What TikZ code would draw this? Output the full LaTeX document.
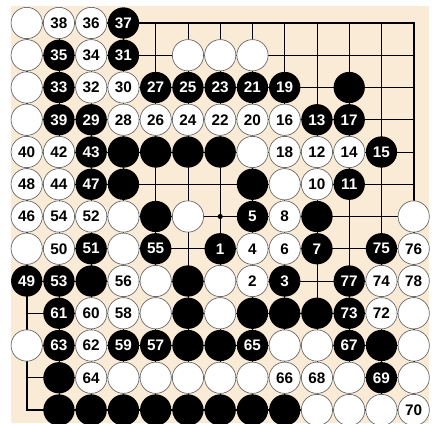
\documentclass[tikz,border=0pt]{standalone}
\usepackage{fontspec}
\setmainfont{Liberation Sans}
\definecolor{boardbg}{HTML}{FAEBD7}
\begin{document}
\begin{tikzpicture}[
    stone/.style={circle, inner sep=0pt, minimum size=0.97cm, font=\bfseries\fontsize{13.5}{13.5}\selectfont},
    black stone/.style={stone, fill=black, text=white},
    white stone/.style={stone, fill=white, draw=black!60, line width=0.6pt, text=black}]
    % 背景
    \useasboundingbox (-0.828,0.713) rectangle (12.567,-12.403);
    \fill[white] (-0.828,0.713) rectangle (12.567,-12.403);
    \fill[boardbg] (-0.502,0.527) rectangle (12.474,-12.403);

    % 棋盘线
    \foreach \i in {0,...,12} {
        \draw[line width=0.8pt] (\i,0) -- (\i,-12);
        \draw[line width=0.8pt] (0,-\i) -- (12,-\i);
    }
    \draw[line width=1.7pt] (0,0) rectangle (12,-12);
    \fill (6,-6) circle (0.08);

    % 黑子
    \foreach \c/\r/\n in {4/1/37, 2/2/35, 4/2/31,
        2/3/33, 5/3/27, 6/3/25, 7/3/23, 8/3/21, 9/3/19, 11/3/{},
        2/4/39, 3/4/29, 10/4/13, 11/4/17,
        3/5/43, 4/5/{}, 5/5/{}, 6/5/{}, 7/5/{}, 12/5/15,
        3/6/47, 4/6/{}, 8/6/{}, 11/6/11,
        5/7/{}, 8/7/5, 10/7/{},
        3/8/51, 5/8/55, 7/8/1, 10/8/7, 12/8/75,
        1/9/49, 2/9/53, 3/9/{}, 6/9/{}, 9/9/3, 11/9/77,
        2/10/61, 6/10/{}, 8/10/{}, 9/10/{}, 10/10/{}, 11/10/73,
        2/11/63, 4/11/59, 5/11/57, 6/11/{}, 7/11/{}, 8/11/65, 11/11/67, 12/11/{},
        2/12/{}, 12/12/69,
        2/13/{}, 3/13/{}, 4/13/{}, 5/13/{}, 6/13/{}, 7/13/{}, 8/13/{}, 9/13/{}}
        \node[black stone] (b-\c-\r) at (\c-1,1-\r) {\n};

    % 白子
    \foreach \c/\r/\n in {1/1/{}, 2/1/38, 3/1/36,
        1/2/{}, 3/2/34, 6/2/{}, 7/2/{}, 8/2/{},
        1/3/{}, 3/3/32, 4/3/30,
        1/4/{}, 4/4/28, 5/4/26, 6/4/24, 7/4/22, 8/4/20, 9/4/16,
        1/5/40, 2/5/42, 8/5/{}, 9/5/18, 10/5/12, 11/5/14,
        1/6/48, 2/6/44, 9/6/{}, 10/6/10,
        1/7/46, 2/7/54, 3/7/52, 4/7/{}, 6/7/{}, 9/7/8, 13/7/{},
        1/8/{}, 2/8/50, 4/8/{}, 8/8/4, 9/8/6, 13/8/76,
        4/9/56, 5/9/{}, 7/9/{}, 8/9/2, 12/9/74, 13/9/78,
        3/10/60, 4/10/58, 5/10/{}, 7/10/{}, 12/10/72, 13/10/{},
        1/11/{}, 3/11/62, 9/11/{}, 10/11/{}, 13/11/{},
        3/12/64, 4/12/{}, 5/12/{}, 6/12/{}, 7/12/{}, 8/12/{}, 9/12/66, 10/12/68, 11/12/{}, 13/12/{},
        10/13/{}, 11/13/{}, 12/13/{}, 13/13/70}
        \node[white stone] (w-\c-\r) at (\c-1,1-\r) {\n};
\end{tikzpicture}
\end{document}
